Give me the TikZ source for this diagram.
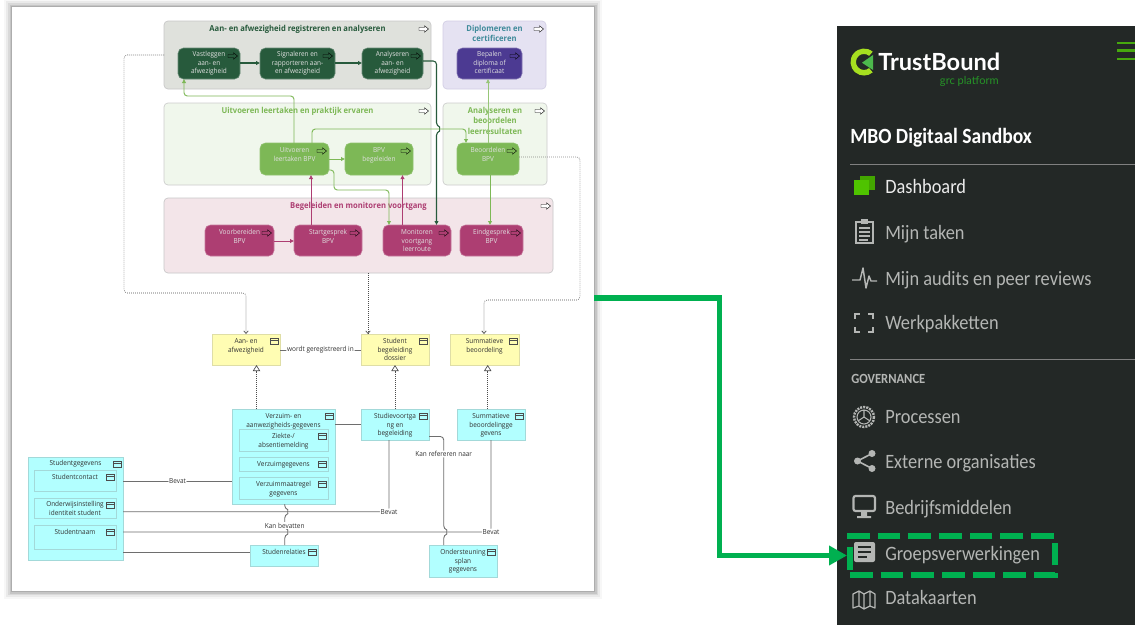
\documentclass[tikz,border=0pt]{standalone}
\usepackage{fontspec}
\setmainfont[FakeStretch=0.93]{Open Sans}
\newfontfamily\sidefont[FakeStretch=0.9]{Carlito}
\newfontfamily\logofont{Lato}
\usetikzlibrary{arrows.meta,calc}
\definecolor{cDark}{HTML}{275A3C}
\definecolor{cPurple}{HTML}{4C3A92}
\definecolor{cLight}{HTML}{7DB856}
\definecolor{cMag}{HTML}{AD3E72}
\definecolor{cYel}{HTML}{FFFDB3}
\definecolor{cCyan}{HTML}{B2FFFF}
\definecolor{cSide}{HTML}{232826}
\definecolor{cMenu}{HTML}{B4B6B4}
\definecolor{cCall}{HTML}{00B050}
\definecolor{cLine}{HTML}{6E6E6E}
\definecolor{cBar}{HTML}{46A80E}
\definecolor{cDash}{HTML}{4FC300}
\newdimen\bxu \bxu=0.75pt
\def\bxpad{3.5}
\newcommand{\bx}[7]{%
  \pgfmathsetlengthmacro{\bxW}{(#4-#2)*0.75pt}%
  \pgfmathsetlengthmacro{\bxH}{(#5-#3)*0.75pt}%
  \node[#6,minimum width=\bxW,minimum height=\bxH,inner sep=0pt,outer sep=0pt,anchor=north west,align=center] (#1) at (#2,#3)
    {\parbox[c][\bxH][t]{\bxW}{\centering\vskip\bxpad\bxu\strut #7\strut}};}
\newcommand{\parr}[2][black]{%
  \draw[#1,line width=.3pt,shift={(#2.north east)}] (-12,6.5) -- (-6.5,6.5) -- (-6.5,4.8) -- (-2.5,8) -- (-6.5,11.2) -- (-6.5,9.5) -- (-12,9.5) -- cycle;}
\newcommand{\obj}[1]{%
  \draw[black!70,line width=.4pt,shift={(#1.north east)}] (-10,3.8) rectangle (-2,10) (-10,5.8) -- (-2,5.8);}
\tikzset{
  x=0.75pt,y=-0.75pt,
  pad/.store in=\bxpad,
  dg/.style={font=\fontsize{5.2}{6.375}\selectfont},
  grp/.style={rounded corners=3,line width=.5pt,font=\bfseries\fontsize{6.15}{7.9}\selectfont,pad=3},
  gA/.style={grp,draw=black!22,fill={rgb,255:red,223;green,225;blue,220},text=cDark},
  gB/.style={grp,draw=cPurple!25,fill={rgb,255:red,229;green,226;blue,242},text={rgb,255:red,63;green,138;blue,154}},
  gC/.style={grp,draw=black!20,fill={rgb,255:red,240;green,247;blue,236},text=cLight},
  gD/.style={grp,draw=black!22,fill={rgb,255:red,243;green,229;blue,233},text=cMag},
  proc/.style={dg,rounded corners=4,line width=.4pt,text=white!88!black,pad=3},
  pDark/.style={proc,fill=cDark,draw=cDark!70!white},
  pPur/.style={proc,fill=cPurple,draw=cPurple!70!white},
  pLig/.style={proc,fill=cLight,draw=cLight!85!white,pad=3.8},
  pMag/.style={proc,fill=cMag,draw=cMag!70!white,pad=3.8},
  yel/.style={dg,fill=cYel,draw=cYel!75!gray,line width=.5pt,text=black!80,pad=3.8},
  cya/.style={dg,fill=cCyan,draw=cCyan!70!gray,line width=.5pt,text=black!80,pad=3.6},
  tipA/.style={-{Triangle[length=3pt,width=2.8pt]},rounded corners=2.5},
  cD/.style={tipA,cDark,line width=.8pt},
  cL/.style={tipA,cLight,line width=.7pt},
  cM/.style={tipA,cMag,line width=.7pt},
  trig/.style={densely dotted,black!70,line width=.5pt,rounded corners=2.5,-{Straight Barb[length=2pt,width=3.4pt]}},
  real/.style={densely dotted,black!70,line width=.5pt,-{Triangle[open,fill=white,length=4.5pt,width=5.5pt]}},
  asso/.style={cLine,line width=.65pt,rounded corners=2.5},
  lbl/.style={dg,fill=white,inner sep=.6pt,text=black!80},
  mitem/.style={font=\sidefont\fontsize{15.3}{18}\selectfont,text=cMenu,anchor=base west,inner sep=0pt,yshift=-4.8pt},
  micon/.style={cMenu,line width=1.1pt},
}
\begin{document}
\begin{tikzpicture}
\useasboundingbox (0,0) rectangle (1135,625);
\fill[white] (0,0) rectangle (1135,625);
% paper with shadow
\foreach \s/\o in {8/.03,6/.05,4/.07,2.5/.09,1/.12}{\fill[black,opacity=\o] (12-\s,7-\s) rectangle (594+\s,591+\s);}
\node[fill=white,minimum width=582*0.75pt,minimum height=584*0.75pt,inner sep=0pt,outer sep=0pt,anchor=north west] (paper) at (12,7) {};
% groups
\bx{g1}{164}{21}{431}{89}{gA}{Aan- en afwezigheid registreren en analyseren}
\bx{g2}{443}{21}{546}{89}{gB}{Diplomeren en\\certificeren}
\bx{g3}{164}{103}{431}{185}{gC}{Uitvoeren leertaken en praktijk ervaren}
\bx{g4}{443}{103}{547}{185}{gC}{Analyseren en\\beoordelen\\leerresultaten}
\bx{g5}{164}{198}{553}{273}{gD}{Begeleiden en monitoren voortgang}
\foreach \g in {g1,g2,g3,g4,g5}{\parr[black,fill=white]{\g}}
% processes
\bx{vast}{178}{48}{240}{79}{pDark}{Vastleggen\\aan- en\\afwezigheid}
\bx{sign}{260}{48}{335}{79}{pDark}{Signaleren en\\rapporteren aan-\\en afwezigheid}
\bx{anal}{362}{48}{423}{79}{pDark}{Analyseren\\aan- en\\afwezigheid}
\bx{bepa}{457}{48}{522}{79}{pPur}{Bepalen\\diploma of\\certificaat}
\bx{uitv}{260}{143}{329}{175}{pLig}{Uitvoeren\\leertaken BPV}
\bx{bege}{345}{143}{413}{175}{pLig}{BPV\\begeleiden}
\bx{beoo}{457}{143}{519}{175}{pLig}{Beoordelen\\BPV}
\bx{voor}{205}{225}{274}{256}{pMag}{Voorbereiden\\BPV}
\bx{star}{294}{225}{362}{256}{pMag}{Startgesprek\\BPV}
\bx{moni}{383}{225}{451}{256}{pMag}{Monitoren\\voortgang\\leerroute}
\bx{eind}{460}{225}{523}{256}{pMag}{Eindgesprek\\BPV}
\foreach \g in {vast,sign,anal,bepa,uitv,bege,beoo,voor,star,moni,eind}{\parr{\g}}
% objects
\bx{yaan}{212}{334}{280}{365}{yel}{Aan- en\\afwezigheid}
\bx{ystu}{361}{334}{429}{365}{yel}{Student\\begeleiding\\dossier}
\bx{ysum}{450}{334}{519}{365}{yel}{Summatieve\\beoordeling}
\bx{verz}{232}{409}{335}{504}{cya}{Verzuim- en\\aanwezigheids-gegevens}
\bx{ziek}{239}{429}{328}{451}{cya}{Ziekte-/\\absentiemelding}
\bx{vgeg}{239}{457}{328}{471}{cya}{Verzuimgegevens}
\bx{vmaa}{239}{477}{328}{499}{cya}{Verzuimmaatregel\\gegevens}
\bx{stvo}{361}{409}{429}{440}{cya}{Studievoortga\\ng en\\begeleiding}
\bx{csum}{457}{409}{525}{440}{cya}{Summatieve\\beoordelingge\\gevens}
\bx{sgeg}{28}{457}{123}{560}{cya,pad=3}{Studentgegevens}
\bx{scon}{34}{470}{116}{491}{cya}{Studentcontact}
\bx{sond}{34}{498}{116}{518}{cya,pad=3}{Onderwijsinstelling\\identiteit student}
\bx{snaa}{34}{525}{116}{549}{cya}{Studentnaam}
\bx{srel}{250}{545}{318}{566}{cya}{Studenrelaties}
\bx{cond}{429}{545}{497}{577}{cya}{Ondersteuning\\splan\\gegevens}
\foreach \g in {yaan,ystu,ysum,verz,ziek,vgeg,vmaa,stvo,csum,sgeg,scon,sond,snaa,srel,cond}{\obj{\g}}
% process connectors
\draw[cD] (vast.east |- 0,63) -- (sign.west |- 0,63);
\draw[cD] (sign.east |- 0,63) -- (anal.west |- 0,63);
\draw[cD] (anal.east |- 0,61) -- (436.5,61) -- (436.5,126) .. controls (439.5,127) and (439.5,131) .. (436.5,132) -- (moni.north -| 436.5,0);
\draw[cL] (uitv.north -| 294,0) -- (294,96) -- (184,96) -- (vast.south -| 184,0);
\draw[cL] (uitv.north -| 312,0) -- (312,129) -- (466,129) -- (beoo.north -| 466,0);
\draw[cL] (uitv.east |- 0,159) -- (bege.west |- 0,159);
\draw[cL] (uitv.east |- 0,170) -- (334,170) -- (334,190) -- (389,190) -- (moni.north -| 389,0);
\draw[cL,line width=.6pt,cLight!80!white] (beoo.north -| 488,0) -- (bepa.south -| 488,0);
\draw[cL] (beoo.south -| 490,0) -- (eind.north -| 490,0);
\draw[cM] (star.north -| 311,0) -- (uitv.south -| 311,0);
\draw[cM] (moni.north -| 402.5,0) -- (bege.south -| 402.5,0);
\draw[cM] (voor.east |- 0,241) -- (star.west |- 0,241);
% triggering dotted
\draw[trig] (g1.west |- 0,55) -- (124,55) -- (124,293) -- (246,293) -- (yaan.north -| 246,0);
\draw[trig] (g5.south -| 368,0) -- (ystu.north -| 368,0);
\draw[trig] (beoo.east |- 0,157) -- (580,157) -- (580,300) -- (484,300) -- (ysum.north -| 484,0);
% realisation
\draw[real] (verz.north -| 256.5,0) -- (yaan.south -| 256.5,0);
\draw[real] (stvo.north -| 395,0) -- (ystu.south -| 395,0);
\draw[real] (csum.north -| 487.7,0) -- (ysum.south -| 487.7,0);
% associations
\draw[asso] (yaan.east |- 0,350) -- node[lbl] {wordt geregistreerd in} (ystu.west |- 0,350);
\draw[asso] (verz.east |- 0,424.5) -- (stvo.west |- 0,424.5);
\draw[asso] (sgeg.east |- 0,481) -- node[lbl,pos=.5] {Bevat} (verz.west |- 0,481);
\draw[asso] (sgeg.east |- 0,511.7) -- (389,511.7) node[lbl] {Bevat} -- (stvo.south -| 389,0);
\draw[asso] (sgeg.east |- 0,532) -- (491,532) node[lbl] {Bevat} -- (csum.south -| 491,0);
\draw[asso] (sgeg.east |- 0,552.5) -- (srel.west |- 0,552.5);
\draw[asso] (verz.south -| 284.7,0) -- (284.7,508.7) .. controls (287.7,509.7) and (287.7,513.7) .. (284.7,514.7) -- (284.7,525.5) node[lbl] {Kan bevatten} -- (284.7,529) .. controls (287.7,530) and (287.7,534) .. (284.7,535) -- (srel.north -| 284.7,0);
\draw[asso] (stvo.east |- 0,436.5) -- (443.7,436.5) -- (443.7,454) node[lbl] {Kan refereren naar} -- (443.7,529) .. controls (446.7,530) and (446.7,534) .. (443.7,535) -- (cond.north -| 443.7,0);
% sidebar
\node[fill=cSide,minimum width=298*0.75pt,minimum height=599*0.75pt,inner sep=0pt,outer sep=0pt,anchor=north west] (side) at (837,26) {};
\draw[line width=1.6pt,cBar] (1117,43) -- (1135,43) (1117,50.5) -- (1135,50.5) (1117,59) -- (1135,59);
% logo
\fill[green!30!yellow!75!gray] (872.7,51.7) arc (-50:-310:13.5) -- (869.1,68.1) arc (-310:-50:8) -- cycle;
\fill[green!60!black!70!white] (873,55) -- (873,70) -- (862,62.7) -- cycle;
\node[font=\logofont\bfseries\fontsize{17.7}{20}\selectfont,text=white,anchor=west,inner sep=0pt] (tb) at (878,62) {TrustBound};
\node[font=\logofont\fontsize{8.3}{10}\selectfont,text=green!50!black!85!white,anchor=east,inner sep=0pt] (grc) at (999,81) {grc platform};
\node[mitem,font=\sidefont\bfseries\fontsize{16.3}{18}\selectfont,text=white] (mbo) at (850,137) {MBO Digitaal Sandbox};
\draw[gray,line width=.7pt] (850,164) -- (side.east |- 0,164) (850,359) -- (side.east |- 0,359);
\node[mitem,text=white!92!black] (m1) at (885,187) {Dashboard};
\node[mitem] (m2) at (885,233) {Mijn taken};
\node[mitem] (m3) at (885,279) {Mijn audits en peer reviews};
\node[mitem] (m4) at (885,323) {Werkpakketten};
\node[mitem,font=\sidefont\bfseries\fontsize{10.5}{12}\selectfont,yshift=1.5pt] (gov) at (851,379) {GOVERNANCE};
\node[mitem] (m5) at (885,417) {Processen};
\node[mitem] (m6) at (885,462) {Externe organisaties};
\node[mitem] (m7) at (885,508) {Bedrijfsmiddelen};
\node[mitem] (m8) at (885,554) {Groepsverwerkingen};
\node[mitem] (m9) at (885,598) {Datakaarten};
% icons
\fill[cDash!85!black] (860,176) rectangle (875,190);
\fill[cDash] (854,180) rectangle (869,195);
\draw[micon] (856,222) rectangle (873,243);
\fill[cMenu] (861,219) rectangle (868,224);
\draw[micon,line width=.9pt] (859,228) -- (870,228) (859,232) -- (870,232) (859,236) -- (870,236) (859,240) -- (868,240);
\draw[micon,line join=round] (852,280) -- (860,280) -- (863,268) -- (866,288) -- (869,276) -- (871,281) -- (877,281);
\draw[micon,line width=1.5pt] (855,319) |- (860,314) (868,314) -| (873,319) (873,327) |- (868,332) (860,332) -| (855,327);
\draw[micon,line width=1.8pt,dash pattern=on 1.5pt off .8pt] (864,417) circle (10);
\draw[micon,line width=.8pt] (864,417) circle (7) (864,417) -- (864,410) (864,417) -- (858,421) (864,417) -- (870,421);
\draw[micon,line width=1.2pt] (872,453.5) -- (857.5,461) -- (872,468.5);
\fill[cMenu] (872,453.5) circle (3.5) (857.5,461) circle (3.5) (872,468.5) circle (3.5);
\draw[micon,line width=1.6pt,rounded corners=1.5] (853.5,496) rectangle (875,511);
\fill[cMenu] (861,512) rectangle (867,516) (857,516) rectangle (871,518);
\fill[cMenu,rounded corners=1.5] (854,542) rectangle (875,562);
\draw[cSide,line width=1.1pt] (858,547) -- (871,547) (858,552) -- (871,552) (858,557) -- (867,557);
\draw[micon,line join=round,line width=.9pt] (853,594) -- (859,591) -- (864,594) -- (870,591) -- (875,594) -- (875,608) -- (870,606) -- (864,609) -- (859,606) -- (853,608) -- cycle (859,591) -- (859,606) (864,594) -- (864,609) (870,591) -- (870,606);
% call-out
\node[draw=cCall,line width=4.5pt,dash pattern=on 17pt off 6pt,minimum width=205*0.75pt,minimum height=39*0.75pt,inner sep=0pt,outer sep=0pt,anchor=north west] (focus) at (850,536) {};
\coordinate (src) at (paper.east |- 0,298);
\draw[cCall,line width=3.8pt,shorten >=2.2pt,-{Triangle[length=13.5pt,width=14pt]}] (src) -- (719.5,298) -- (719.5,555.5) -- (focus.west |- 0,555.5);
\end{tikzpicture}
\end{document}
